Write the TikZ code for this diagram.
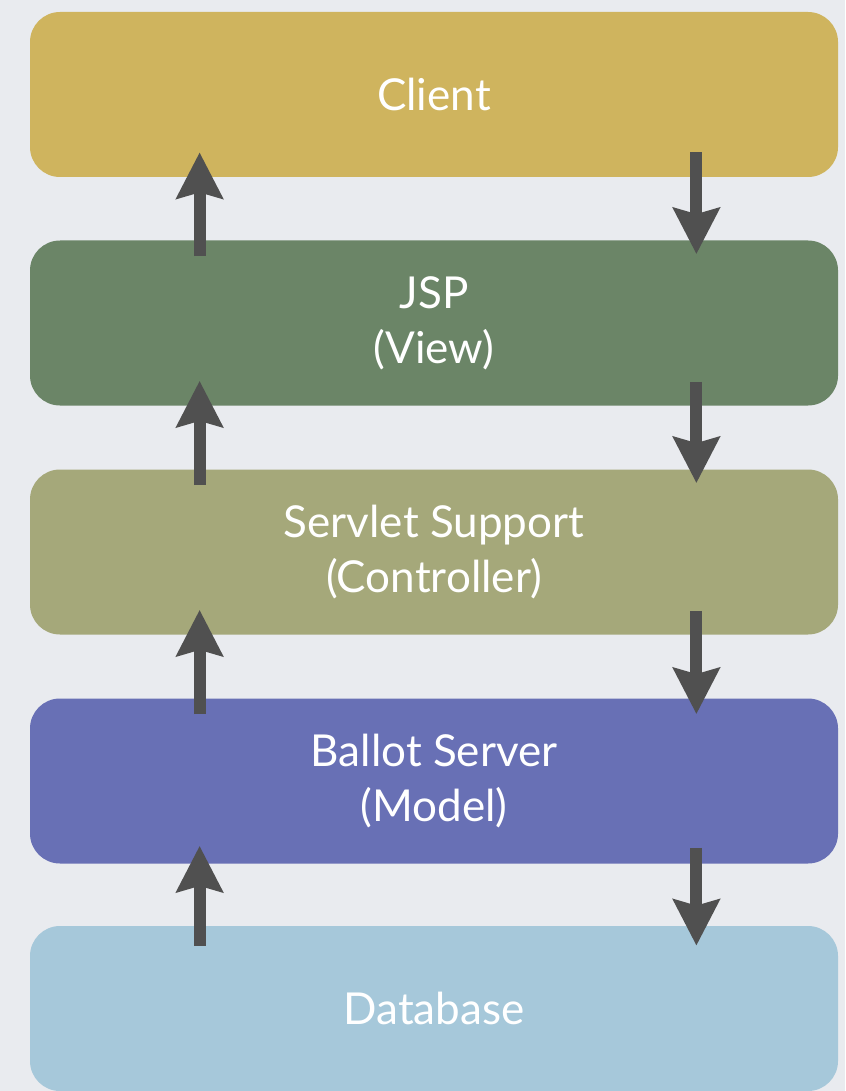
\documentclass[tikz,border=0pt]{standalone}
\usepackage{fontspec}
\setmainfont{Lato}
\usepackage{tikz}
\usetikzlibrary{arrows.meta,positioning}
\usepackage{xcolor}
\definecolor{mvcbg}{RGB}{233,235,239}
\definecolor{mvcgold}{RGB}{207,180,94}
\definecolor{mvcgreen}{RGB}{107,133,103}
\definecolor{mvcolive}{RGB}{165,168,122}
\definecolor{mvcblue}{RGB}{104,112,181}
\definecolor{mvclightblue}{RGB}{166,200,218}
\definecolor{mvcarrow}{RGB}{80,80,80}
\tikzstyle{layer} = [rectangle, rounded corners=15pt, minimum width=404pt, minimum height=82.5pt, text centered, align=center, text=white, font=\fontsize{22}{27.5}\selectfont]
\tikzstyle{flow} = [line width=6pt, -{Stealth[width=23pt,length=23pt,inset=3pt]}, color=mvcarrow]

\begin{document}
\begin{tikzpicture}[x=0.5pt, y=-0.5pt]
\useasboundingbox (0,0) rectangle (845,1091);
\fill[mvcbg] (0,0) rectangle (845,1091);

% Layers
\node[layer, fill=mvcgold] (client) at (434,94.5) {Client};
\node[layer, fill=mvcgreen] (jsp) at (434,323) {JSP\\(View)};
\node[layer, fill=mvcolive] (servlet) at (434,552) {Servlet Support\\(Controller)};
\node[layer, fill=mvcblue] (ballot) at (434,781) {Ballot Server\\(Model)};
\node[layer, fill=mvclightblue] (db) at (434,1008.5) {Database};

% Responses (up)
\draw[flow] ([xshift=85pt,yshift=-8pt]jsp.north west) -- ([xshift=85pt,yshift=12.5pt]client.south west);
\draw[flow] ([xshift=85pt,yshift=-8pt]servlet.north west) -- ([xshift=85pt,yshift=12.5pt]jsp.south west);
\draw[flow] ([xshift=85pt,yshift=-8pt]ballot.north west) -- ([xshift=85pt,yshift=12.5pt]servlet.south west);
\draw[flow] ([xshift=85pt,yshift=-10pt]db.north west) -- ([xshift=85pt,yshift=9pt]ballot.south west);

% Requests (down)
\draw[flow] ([xshift=-71pt,yshift=12.5pt]client.south east) -- ([xshift=-71pt,yshift=-7pt]jsp.north east);
\draw[flow] ([xshift=-71pt,yshift=12pt]jsp.south east) -- ([xshift=-71pt,yshift=-7pt]servlet.north east);
\draw[flow] ([xshift=-71pt,yshift=12pt]servlet.south east) -- ([xshift=-71pt,yshift=-8pt]ballot.north east);
\draw[flow] ([xshift=-71pt,yshift=8pt]ballot.south east) -- ([xshift=-71pt,yshift=-10pt]db.north east);
\end{tikzpicture}
\end{document}
